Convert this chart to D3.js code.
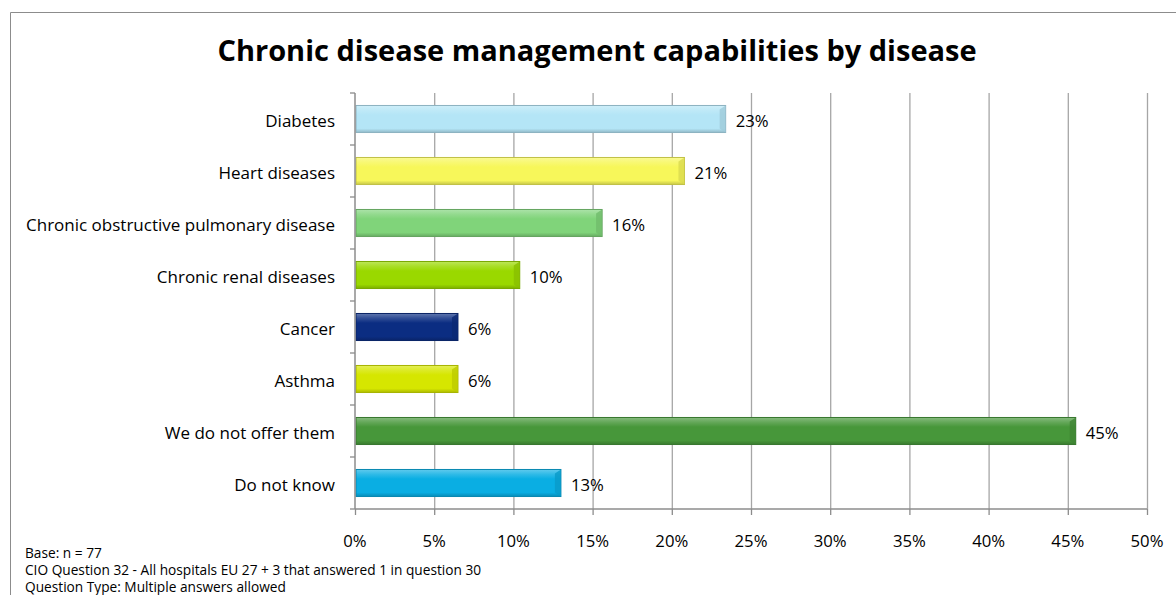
<!DOCTYPE html>
<html><head><meta charset="utf-8">
<script src="https://cdn.jsdelivr.net/npm/d3@7"></script>
<style>
html,body{margin:0;padding:0;background:#fff;}
svg{display:block;font-family:"Open Sans",Lato,sans-serif;}
</style></head>
<body><svg id="c" width="1176" height="595"></svg>
<script>
const categories = ["Diabetes","Heart diseases","Chronic obstructive pulmonary disease","Chronic renal diseases","Cancer","Asthma","We do not offer them","Do not know"];
const values = [23.4, 20.8, 15.6, 10.4, 6.5, 6.5, 45.5, 13.0];
const valueLabels = ["23%","21%","16%","10%","6%","6%","45%","13%"];
const colors = ["#b4e5f6","#f7f75a","#80d47a","#9ad800","#0b2d82","#d6e600","#47973a","#0aaee3"];
const xTicks = [0,5,10,15,20,25,30,35,40,45,50];
const title = "Chronic disease management capabilities by disease";
const notes = ["Base: n = 77","CIO Question 32 - All hospitals EU 27 + 3 that answered 1 in question 30","Question Type: Multiple answers allowed"];

const svg = d3.select("#c");
const W = 1176, H = 595;
const m = {left:355, right:1147, top:93, bottom:509};

// frame
svg.append("path").attr("d",`M10.5,${H} V12.5 H${W}`).attr("fill","none").attr("stroke","#8c8c8c").attr("stroke-width",1);

svg.append("text").attr("x",597).attr("y",61).attr("text-anchor","middle")
  .attr("font-size",29).attr("font-weight","bold").attr("fill","#000").text(title);

const x = d3.scaleLinear().domain([0,50]).range([m.left,m.right]);
const y = d3.scaleBand().domain(categories).range([m.top,m.bottom]).paddingInner(0.48).paddingOuter(0.24);

// gridlines
svg.append("g").selectAll("line").data(xTicks.slice(1)).join("line")
  .attr("x1",d=>x(d)+0.5).attr("x2",d=>x(d)+0.5).attr("y1",m.top).attr("y2",m.bottom)
  .attr("stroke","#a6a6a6").attr("stroke-width",1.3);

// gradients
const defs = svg.append("defs");
colors.forEach((c,i)=>{
  const g = defs.append("linearGradient").attr("id","g"+i).attr("x1",0).attr("y1",0).attr("x2",0).attr("y2",1);
  const base = d3.color(c);
  g.append("stop").attr("offset","0%").attr("stop-color",d3.interpolateRgb(c,"#fff")(0.35));
  g.append("stop").attr("offset","18%").attr("stop-color",d3.interpolateRgb(c,"#fff")(0.15));
  g.append("stop").attr("offset","35%").attr("stop-color",c);
  g.append("stop").attr("offset","85%").attr("stop-color",c);
  g.append("stop").attr("offset","100%").attr("stop-color",base.darker(0.6));
});

const bars = svg.append("g").selectAll("g").data(categories).join("g");
bars.append("rect")
  .attr("x",x(0)+1).attr("y",d=>y(d))
  .attr("width",(d,i)=>x(values[i])-x(0)-1).attr("height",y.bandwidth())
  .attr("fill",(d,i)=>`url(#g${i})`)
  .attr("stroke",(d,i)=>d3.color(colors[i]).darker(0.7)).attr("stroke-width",1);
// right bevel
bars.append("path")
  .attr("d",(d,i)=>{const xe=x(values[i]), y0=y(d), h=y.bandwidth();
    return `M${xe-6},${y0+4} L${xe},${y0} L${xe},${y0+h} L${xe-6},${y0+h-4} Z`;})
  .attr("fill",(d,i)=>d3.color(colors[i]).darker(0.35)).attr("opacity",0.8);

// value labels
bars.append("text").attr("x",(d,i)=>x(values[i])+10).attr("y",d=>y(d)+y.bandwidth()/2+7.5)
  .attr("font-size",16.7).attr("fill","#000").text((d,i)=>valueLabels[i]);

// y axis
const ya = svg.append("g").attr("transform",`translate(${m.left},0)`);
ya.append("line").attr("x1",0).attr("x2",0).attr("y1",m.top).attr("y2",m.bottom).attr("stroke","#8c8c8c").attr("stroke-width",1.5);
ya.selectAll("line.t").data(d3.range(categories.length+1)).join("line").attr("class","t")
  .attr("x1",-5).attr("x2",0).attr("y1",i=>m.top+i*(m.bottom-m.top)/categories.length).attr("y2",i=>m.top+i*(m.bottom-m.top)/categories.length)
  .attr("stroke","#8c8c8c").attr("stroke-width",1.3);
ya.selectAll("text").data(categories).join("text")
  .attr("x",-20).attr("y",d=>y(d)+y.bandwidth()/2+7.5).attr("text-anchor","end")
  .attr("font-size",17).attr("fill","#000").text(d=>d);

// x axis
const xa = svg.append("g").attr("transform",`translate(0,${m.bottom})`);
xa.append("line").attr("x1",m.left).attr("x2",m.right).attr("y1",0).attr("y2",0).attr("stroke","#8c8c8c").attr("stroke-width",1.5);
xa.selectAll("line.t").data(xTicks).join("line").attr("class","t")
  .attr("x1",d=>x(d)+0.5).attr("x2",d=>x(d)+0.5).attr("y1",0).attr("y2",6).attr("stroke","#8c8c8c").attr("stroke-width",1.3);
xa.selectAll("text").data(xTicks).join("text")
  .attr("x",d=>x(d)).attr("y",38).attr("text-anchor","middle").attr("font-size",16.7).attr("fill","#000").text(d=>d+"%");

// notes
svg.append("g").selectAll("text").data(notes).join("text")
  .attr("x",25).attr("y",(d,i)=>557.5+i*17).attr("font-size",13.7).attr("fill","#000").text(d=>d);
</script></body></html>
